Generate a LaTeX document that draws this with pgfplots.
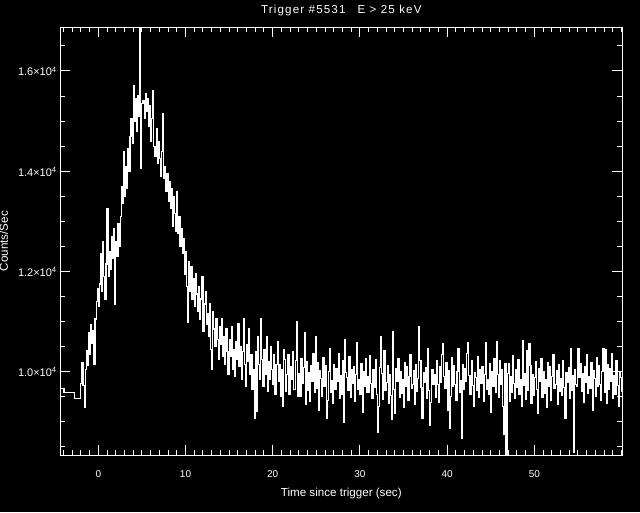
\documentclass[border=0pt]{standalone}
\usepackage{fontspec}
\setmainfont{Liberation Sans}
\newfontfamily\titlefont[LetterSpace=10]{Liberation Sans}
\usepackage{pgfplots}
\pgfplotsset{compat=1.18}
\begin{document}
\begin{tikzpicture}
\fill[black] (0,0) rectangle (640pt,512pt);
\begin{axis}[
  at={(60.3pt,57pt)}, anchor=south west,
  scale only axis, width=562pt, height=427.7pt,
  xmin=-4.36, xmax=60.09, ymin=8337, ymax=16872,
  axis line style={white, line width=1pt},
  tick style={white, line width=1pt},
  major tick length=10pt, minor tick length=5pt,
  scaled y ticks=false,
  xtick={0,10,20,30,40,50},
  minor xtick={-4,-3,...,60},
  ytick={10000,12000,14000,16000},
  minor ytick={8500,9000,...,16500},
  yticklabels={1.0×10\textsuperscript{4},1.2×10\textsuperscript{4},1.4×10\textsuperscript{4},1.6×10\textsuperscript{4}},
  xticklabel style={white, font=\fontsize{10}{10}\selectfont, anchor=base, yshift=-22.5pt},
  yticklabel style={white, font=\fontsize{11}{11}\selectfont, anchor=base east, yshift=-5pt},
  /pgf/number format/assume math mode=true,
  title={\titlefont Trigger \#5531\hspace{12pt}E > 25 keV},
  title style={white, font=\fontsize{11.6}{12}\selectfont, at={(axis description cs:0.5,1.01707)}, anchor=base, inner sep=0pt},
  xlabel={Time since trigger (sec)},
  xlabel style={white, font=\fontsize{11.6}{12}\selectfont, at={(axis description cs:0.5,-0.0975)}, anchor=base, inner sep=0pt},
  ylabel={Counts/Sec},
  ylabel style={white, font=\fontsize{11.6}{12}\selectfont, at={(axis description cs:-0.0931,0.5)}, anchor=base, inner sep=0pt},
]
\addplot[const plot, white, line width=1.15pt] coordinates {
(-4.5,9668) (-3.94,9588) (-2.76,9469)
(-2,9760) (-1.875,10180) (-1.75,9720) (-1.625,9280) (-1.5,10050) (-1.375,10420) (-1.25,10130) (-1.125,10780)
(-1,10350) (-0.875,10930) (-0.75,10560) (-0.625,10820) (-0.5,10150) (-0.375,11050) (-0.25,11400) (-0.125,11650)
(0,11300) (0.125,11750) (0.25,12350) (0.375,11600) (0.5,12590) (0.625,11900) (0.75,11450) (0.875,12150)
(1,13250) (1.125,11900) (1.25,12400) (1.375,12050) (1.5,12700) (1.625,12250) (1.75,12850) (1.875,11350)
(2,12600) (2.125,12300) (2.25,12950) (2.375,12500) (2.5,13100) (2.625,13700) (2.75,13350) (2.875,14400)
(3,13500) (3.125,14100) (3.25,13650) (3.375,14450) (3.5,14000) (3.625,14700) (3.75,15050) (3.875,14550)
(4,15700) (4.125,15000) (4.25,15450) (4.375,14800) (4.5,15500) (4.625,15100) (4.75,17500) (4.875,14050)
(5,15350) (5.125,15400) (5.25,15050) (5.375,15550) (5.5,15200) (5.625,15450) (5.75,14900) (5.875,15300)
(6,14600) (6.125,15050) (6.25,15600) (6.375,14500) (6.5,14300) (6.625,14850) (6.75,14150) (6.875,14600)
(7,14250) (7.125,13900) (7.25,14400) (7.375,15150) (7.5,13850) (7.625,14100) (7.75,13600) (7.875,13950)
(8,13400) (8.125,13800) (8.25,13250) (8.375,13650) (8.5,12900) (8.625,13500) (8.75,13150) (8.875,12800)
(9,13600) (9.125,12750) (9.25,13100) (9.375,12500) (9.5,12850) (9.625,12350) (9.75,12650) (9.875,11950)
(10,12400) (10.125,11700) (10.25,10980) (10.375,12200) (10.5,11600) (10.625,12100) (10.75,11450) (10.875,11850)
(11,11300) (11.125,11950) (11.25,11550) (11.375,11200) (11.5,11700) (11.625,11050) (11.75,11450) (11.875,11900)
(12,10800) (12.125,11350) (12.25,11600) (12.375,10950) (12.5,11150) (12.625,10700) (12.75,11350) (12.875,10450)
(13,10050) (13.125,11200) (13.25,10850) (13.375,10500) (13.5,11050) (13.625,10650) (13.75,10250) (13.875,10900)
(14,10550) (14.125,11050) (14.25,10300) (14.375,10700) (14.5,10150) (14.625,10850) (14.75,10400) (14.875,9950)
(15,10650) (15.125,10300) (15.25,10900) (15.375,10050) (15.5,10450) (15.625,9900) (15.75,10600) (15.875,10250)
(16,10950) (16.125,10100) (16.25,10500) (16.375,9850) (16.5,10400) (16.625,11050) (16.75,10150) (16.875,9700)
(17,10550) (17.125,10200) (17.25,10850) (17.375,9950) (17.5,10350) (17.625,9650) (17.75,10050) (17.875,9060)
(18,10400) (18.125,9200) (18.25,10700) (18.375,10150) (18.5,9850) (18.625,11050) (18.75,10250) (18.875,9700)
(19,10450) (19.125,9950) (19.25,10700) (19.375,9600) (19.5,10200) (19.625,9850) (19.75,10500) (19.875,10050)
(20,9750) (20.125,10350) (20.25,9550) (20.375,10150) (20.5,10600) (20.625,9800) (20.75,10150) (20.875,9500)
(21,10050) (21.125,9300) (21.25,10450) (21.375,10250) (21.5,9600) (21.625,9950) (21.75,10350) (21.875,9550)
(22,10100) (22.125,9850) (22.25,10400) (22.375,9650) (22.5,9650) (22.625,10230) (22.75,11000) (22.875,9510)
(23,9970) (23.125,9510) (23.25,10260) (23.375,9770) (23.5,10080) (23.625,10780) (23.75,9340) (23.875,10200)
(24,9620) (24.125,9980) (24.25,9410) (24.375,10120) (24.5,9810) (24.625,10360) (24.75,9580) (24.875,10700)
(25,9670) (25.125,10190) (25.25,9220) (25.375,10020) (25.5,9860) (25.625,9510) (25.75,10280) (25.875,9700)
(26,10120) (26.125,9070) (26.25,9430) (26.375,10000) (26.5,10470) (26.625,9580) (26.75,9830) (26.875,9370)
(27,10150) (27.125,9640) (27.25,10070) (27.375,9800) (27.5,10360) (27.625,9460) (27.75,9930) (27.875,9540)
(28,10220) (28.125,8980) (28.25,10640) (28.375,9980) (28.5,9890) (28.625,9620) (28.75,10300) (28.875,9490)
(29,10040) (29.125,9770) (29.25,10110) (29.375,9410) (29.5,9950) (29.625,10580) (29.75,9650) (29.875,9850)
(30,9550) (30.125,10170) (30.25,9180) (30.375,10010) (30.5,9710) (30.625,10260) (30.75,9590) (30.875,9900)
(31,9590) (31.125,10330) (31.25,9760) (31.375,9470) (31.5,10040) (31.625,9680) (31.75,10250) (31.875,9540)
(32,8780) (32.125,9300) (32.25,10080) (32.375,10700) (32.5,9970) (32.625,9450) (32.75,10420) (32.875,9620)
(33,9780) (33.125,10130) (33.25,9360) (33.375,9940) (33.5,9520) (33.625,9040) (33.75,10810) (33.875,9640)
(34,9170) (34.125,10060) (34.25,9810) (34.375,10270) (34.5,9490) (34.625,10000) (34.75,9570) (34.875,9840)
(35,9280) (35.125,10180) (35.25,9710) (35.375,10100) (35.5,9420) (35.625,9910) (35.75,10340) (35.875,9660)
(36,9750) (36.125,10020) (36.25,9340) (36.375,10150) (36.5,9600) (36.625,9870) (36.75,10900) (36.875,10230)
(37,9690) (37.125,9060) (37.25,9990) (37.375,9790) (37.5,10090) (37.625,9470) (37.75,10460) (37.875,9630)
(38,8920) (38.125,9380) (38.25,10050) (38.375,9740) (38.5,9940) (38.625,9480) (38.75,10230) (38.875,9740)
(39,9390) (39.125,10100) (39.25,9790) (39.375,10340) (39.5,10570) (39.625,9910) (39.75,9670) (39.875,10190)
(40,9220) (40.125,10020) (40.25,8870) (40.375,9510) (40.5,10280) (40.625,9700) (40.75,10120) (40.875,9750)
(41,9430) (41.125,10000) (41.25,10470) (41.375,9580) (41.5,9830) (41.625,8670) (41.75,10150) (41.875,9640)
(42,10070) (42.125,9800) (42.25,10360) (42.375,10580) (42.5,9930) (42.625,9540) (42.75,10220) (42.875,9730)
(43,9300) (43.125,9980) (43.25,9890) (43.375,9620) (43.5,10300) (43.625,9490) (43.75,10040) (43.875,9770)
(44,10110) (44.125,9410) (44.25,9950) (44.375,10580) (44.5,9650) (44.625,9850) (44.75,9550) (44.875,10170)
(45,9180) (45.125,10010) (45.25,9710) (45.375,10260) (45.5,9590) (45.625,10600) (45.75,9940) (45.875,9480)
(46,10230) (46.125,9740) (46.25,10050) (46.375,9310) (46.5,8740) (46.625,10170) (46.75,8250) (46.875,9960)
(47,10160) (47.125,9410) (47.25,9900) (47.375,9590) (47.5,10330) (47.625,9760) (47.75,9470) (47.875,10040)
(48,9680) (48.125,10250) (48.25,9540) (48.375,9850) (48.5,9300) (48.625,10630) (48.75,9730) (48.875,9970)
(49,9450) (49.125,10420) (49.25,9620) (49.375,10560) (49.5,10130) (49.625,9360) (49.75,9940) (49.875,9520)
(50,9890) (50.125,10210) (50.25,9640) (50.375,9170) (50.5,10060) (50.625,9810) (50.75,10270) (50.875,9490)
(51,10000) (51.125,9570) (51.25,9840) (51.375,9280) (51.5,10180) (51.625,9710) (51.75,10100) (51.875,9420)
(52,9910) (52.125,10340) (52.25,9660) (52.375,9750) (52.5,10020) (52.625,9340) (52.75,10150) (52.875,9600)
(53,9870) (53.125,9530) (53.25,10230) (53.375,9690) (53.5,9060) (53.625,9990) (53.75,9790) (53.875,10090)
(54,9470) (54.125,10460) (54.25,9630) (54.375,9930) (54.5,8380) (54.625,10050) (54.75,9740) (54.875,9700)
(55,10470) (55.125,9880) (55.25,10170) (55.375,9600) (55.5,9960) (55.625,9390) (55.75,10100) (55.875,9790)
(56,10340) (56.125,9560) (56.25,9910) (56.375,9670) (56.5,10190) (56.625,9220) (56.75,10020) (56.875,9860)
(57,9510) (57.125,10280) (57.25,9700) (57.375,10120) (57.5,9750) (57.625,9430) (57.75,10000) (57.875,10470)
(58,9580) (58.125,10450) (58.25,9370) (58.375,10150) (58.5,9640) (58.625,10070) (58.75,9800) (58.875,10360)
(59,9460) (59.125,9930) (59.25,9540) (59.375,10220) (59.5,9730) (59.625,9300) (59.75,9980) (59.875,9890)
(60,9600) (60.125,9600)
};
\end{axis}
\pgfresetboundingbox
\useasboundingbox (0,0) rectangle (640pt,512pt);
\end{tikzpicture}
\end{document}
